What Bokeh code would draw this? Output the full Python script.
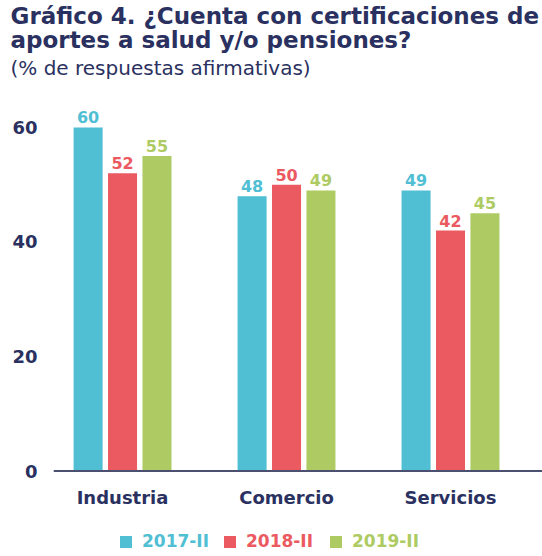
from bokeh.plotting import figure
from bokeh.models import (Range1d, FixedTicker, Title, Legend, LegendItem,
                          ColumnDataSource, Span)
from bokeh.core.properties import value
from bokeh.embed import file_html
from bokeh.resources import INLINE

# ---- data ----
categories = ["Industria", "Comercio", "Servicios"]
series = ["2017-II", "2018-II", "2019-II"]
v2017 = [60, 48, 49]
v2018 = [52, 50, 42]
v2019 = [55, 49, 45]
y_ticks = [0, 20, 40, 60]

colors = ["#50BED3", "#EA5A60", "#AECB63"]
navy = "#2A3160"
FONT = "DejaVu Sans"

p = figure(width=542, height=556, output_backend="svg", toolbar_location=None,
           x_range=Range1d(-0.421, 2.561), y_range=Range1d(-14.93, 67.5),
           min_border_left=53, min_border_right=0, min_border_top=84,
           min_border_bottom=0)
p.outline_line_color = None
p.xgrid.visible = False
p.ygrid.visible = False
p.xaxis.visible = False
p.background_fill_color = "white"

offsets = [-0.21, 0.0, 0.21]
bar_w = 0.177
legend_renderers = []
for s, vals, col, off in zip(series, [v2017, v2018, v2019], colors, offsets):
    xs = [i + off for i in range(len(categories))]
    src = ColumnDataSource(dict(x=xs, top=vals, lab=[str(v) for v in vals]))
    r = p.vbar(x="x", top="top", width=bar_w, bottom=0, source=src,
               fill_color=col, line_color=None)
    legend_renderers.append(r)
    p.text(x="x", y="top", text="lab", source=src, text_align="center",
           text_baseline="bottom", y_offset=-4, text_color=col,
           text_font=value(FONT), text_font_size="16px",
           text_font_style="bold")

# baseline (category axis line)
p.add_layout(Span(location=0, dimension="width", line_color="#4B4F70",
                  line_width=2))

# category labels under the baseline
cat_src = ColumnDataSource(dict(x=list(range(len(categories))),
                                y=[0] * len(categories), lab=categories))
p.text(x="x", y="y", text="lab", source=cat_src, text_align="center",
       text_baseline="top", y_offset=16, text_color=navy,
       text_font=value(FONT), text_font_size="18px", text_font_style="bold")

# y axis
p.yaxis.ticker = FixedTicker(ticks=y_ticks)
p.yaxis.axis_line_color = None
p.yaxis.major_tick_line_color = None
p.yaxis.minor_tick_line_color = None
p.yaxis.major_label_standoff = 10
p.yaxis.major_label_text_font = FONT
p.yaxis.major_label_text_font_size = "18px"
p.yaxis.major_label_text_font_style = "bold"
p.yaxis.major_label_text_color = navy

# titles (added bottom-up)
sub = Title(text="(% de respuestas afirmativas)", align="left",
            text_font=FONT, text_font_size="20px", text_font_style="normal",
            text_color=navy, offset=-43, standoff=9)
p.add_layout(sub, "above")
t2 = Title(text="aportes a salud y/o pensiones?", align="left",
           text_font=FONT, text_font_size="23px", text_font_style="bold",
           text_color=navy, offset=-43, standoff=-7)
p.add_layout(t2, "above")
t1 = Title(text="Gráfico 4. ¿Cuenta con certificaciones de", align="left",
           text_font=FONT, text_font_size="23px", text_font_style="bold",
           text_color=navy, offset=-43, standoff=0)
p.add_layout(t1, "above")

# legend: one per series so each label gets its own colour
leg_x = [65, 169, 275]
for s, r, col, lx in zip(series, legend_renderers, colors, leg_x):
    lg = Legend(items=[LegendItem(label=s, renderers=[r])],
                location=(lx, 5), orientation="horizontal",
                padding=0, margin=0, spacing=0, glyph_width=15,
                glyph_height=15, label_standoff=9, label_height=15,
                label_text_font=FONT, label_text_font_size="17px",
                label_text_font_style="bold", label_text_color=col,
                border_line_color=None, background_fill_alpha=0)
    p.add_layout(lg, "center")

open("out.html", "w").write(file_html(p, INLINE))
